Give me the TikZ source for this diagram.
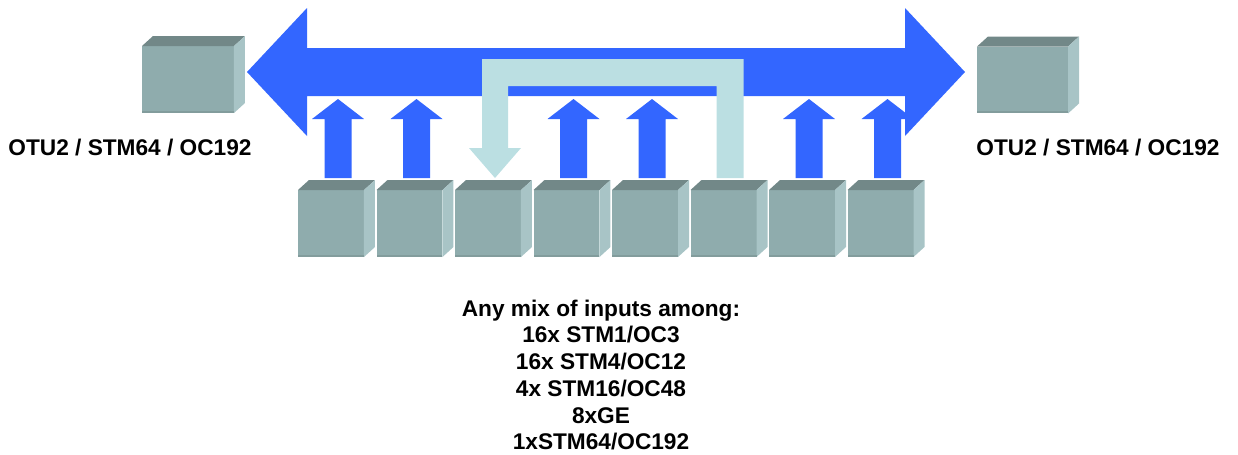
\documentclass[tikz,border=0pt]{standalone}
\usepackage{fontspec}
\setmainfont{Liberation Sans}
\usetikzlibrary{calc}

\definecolor{busblue}{RGB}{51,102,255}
\definecolor{loopcyan}{RGB}{187,223,226}
\definecolor{cubefront}{RGB}{143,172,173}
\definecolor{cubetop}{RGB}{114,136,136}
\definecolor{cubeside}{RGB}{168,196,198}

\tikzset{
  cube/.style={fill=cubefront, inner sep=0pt, outer sep=0pt, minimum width=1.32cm, minimum height=1.34cm},
  lbl/.style={font=\fontsize{12.9}{15.2}\selectfont\bfseries, align=center, inner sep=0pt},
  upblk/.style={fill=busblue},
}

\begin{document}
\begin{tikzpicture}[x=0.02cm, y=-0.02cm]
  \useasboundingbox (0,0) rectangle (1238,454);

  % Cubes: front faces
  \node[cube, minimum width=1.84cm] (L) at (188,79.5) {};
  \node[cube, minimum width=1.82cm] (R) at (1022.5,80) {};
  \foreach \i in {1,...,8}
    \node[cube] (b\i) at ({331+78.5*(\i-1)},223.5) {};

  % Cubes: top and side faces
  \foreach \n in {L,R,b1,b2,b3,b4,b5,b6,b7,b8} {
    \fill[cubetop] (\n.north west) -- ++(11,-10) -- ($(\n.north east)+(11,-10)$) -- (\n.north east) -- cycle;
    \fill[cubeside] (\n.north east) -- ++(11,-10) -- ($(\n.south east)+(11,-10)$) -- (\n.south east) -- cycle;
    \fill[cubetop!45!cubefront] ($(\n.south west)+(0,-2)$) rectangle (\n.south east);
  }

  % Bus (double arrow)
  \coordinate (tipL) at (247,72);
  \coordinate (tipR) at (965,72);
  \fill[busblue] (tipL) -- ++(60,-64) -- ++(0,40) -- ($(tipR)+(-60,-24)$) -- ++(0,-40)
    -- (tipR) -- ++(-60,64) -- ++(0,-40) -- ($(tipL)+(60,24)$) -- ++(0,40) -- cycle;

  % Loop back (cross connect)
  \coordinate (src) at ($(b6.north)+(6.5,-12)$);
  \coordinate (dst) at ($(b3.north)+(7,-12)$);
  \fill[loopcyan] ($(src)+(-13.5,0)$) -- ($(src)+(-13.5,-92)$) -- ($(dst)+(13,-92)$)
    -- ($(dst)+(13,-30)$) -- ($(dst)+(26,-30)$) -- (dst) -- ($(dst)+(-26,-30)$)
    -- ($(dst)+(-13,-30)$) -- ($(dst)+(-13,-119)$) -- ($(src)+(13.5,-119)$)
    -- ($(src)+(13.5,0)$) -- cycle;

  % Inputs onto the bus
  \foreach \n in {b1,b2,b4,b5,b7,b8}
    \fill[upblk] ($(\n.north)+(7,-12)$) ++(-13.5,0) -- ++(0,-59) -- ++(-12.5,0)
      -- ++(26,-20) -- ++(26,20) -- ++(-12.5,0) -- ++(0,59) -- cycle;

  % Labels
  \node[lbl] (lblL) at (130,148) {OTU2 / STM64 / OC192};
  \node[lbl] (lblR) at (1098,148) {OTU2 / STM64 / OC192};
  \node[lbl] (mix) at (601,375) {Any mix of inputs among:\\16x STM1/OC3\\16x STM4/OC12\\4x STM16/OC48\\8xGE\\1xSTM64/OC192};
\end{tikzpicture}
\end{document}
